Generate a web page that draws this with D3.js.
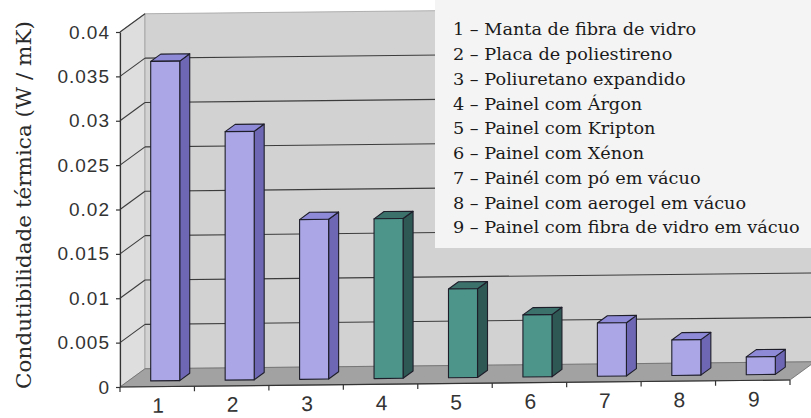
<!DOCTYPE html>
<html>
<head>
<meta charset="utf-8">
<script src="https://cdn.jsdelivr.net/npm/d3@7"></script>
<style>
  html, body { margin: 0; padding: 0; background: #ffffff; }
  svg { display: block; }
  .sans { font-family: "Liberation Sans", Arimo, Arial, sans-serif; }
  .serif { font-family: "DejaVu Serif", serif; }
</style>
</head>
<body>
<svg id="chart" width="811" height="418"></svg>
<script>
// Thermal conductivity of insulation materials (W/mK)
const categories = ["1", "2", "3", "4", "5", "6", "7", "8", "9"];
const conductivity = [0.036, 0.028, 0.018, 0.018, 0.010, 0.007, 0.006, 0.004, 0.002];
const barGroup = ["conv", "conv", "conv", "gas", "gas", "gas", "vac", "vac", "vac"];
const yTicks = [0, 0.005, 0.01, 0.015, 0.02, 0.025, 0.03, 0.035, 0.04];
const yTickLabels = ["0", "0.005", "0.01", "0.015", "0.02", "0.025", "0.03", "0.035", "0.04"];
const legendItems = [
  "1 – Manta de fibra de vidro",
  "2 – Placa de poliestireno",
  "3 – Poliuretano expandido",
  "4 – Painel com Árgon",
  "5 – Painel com Kripton",
  "6 – Painel com Xénon",
  "7 – Painél com pó em vácuo",
  "8 – Painel com aerogel em vácuo",
  "9 – Painel com fibra de vidro em vácuo"
];
const yTitle = "Condutibilidade térmica (W / mK)";

// Face colours per bar group: front, side, top
const palette = {
  conv: { front: "#aba7e6", side: "#6d67b4", top: "#8f8ad8" },
  gas:  { front: "#4d948a", side: "#2e5853", top: "#3c706a" },
  vac:  { front: "#aba7e6", side: "#6d67b4", top: "#8f8ad8" }
};

const svg = d3.select("#chart");

// Front plane of the 3D box
const X0 = 120, X1 = 790;
const x = d3.scaleBand().domain(categories).range([X0, X1]).padding(0);
const y = d3.scaleLinear().domain([0, 0.04]).range([387, 32]);

// Oblique depth offset for z in [0,1] (0 = front, 1 = back wall)
const DX = 25, DY = -18;
const P = (xf, v, z) => [xf + z * DX, y(v) + z * DY];
const pts = arr => arr.map(p => p.join(",")).join(" ");

// Slight downward-right tilt of the whole 3D scene
const scene = svg.append("g")
  .attr("transform", `translate(${X0},0) skewY(-0.6) translate(${-X0},0)`);

const vMax = 0.04;

// Left side wall
scene.append("polygon")
  .attr("points", pts([P(X0, 0, 0), P(X0, 0, 1), P(X0, vMax, 1), P(X0, vMax, 0)]))
  .attr("fill", "#dedede").attr("stroke", "#9a9a9a").attr("stroke-width", 0.8);

// Back wall (runs past the right edge)
scene.append("polygon")
  .attr("points", pts([P(X0, 0, 1), P(X1, 0, 1), P(X1, vMax, 1), P(X0, vMax, 1)]))
  .attr("fill", "#d2d2d2").attr("stroke", "#a0a0a0").attr("stroke-width", 0.8);

// Floor
scene.append("polygon")
  .attr("points", pts([P(X0, 0, 0), P(X1, 0, 0), P(X1, 0, 1), P(X0, 0, 1)]))
  .attr("fill", "#a2a2a2").attr("stroke", "#6a6a6a").attr("stroke-width", 0.8);

// Gridlines: diagonals on the side wall, horizontals on the back wall
const grid = scene.append("g").attr("stroke", "#3c3c3c").attr("stroke-width", 1.1).attr("fill", "none");
yTicks.filter(v => v > 0).forEach(v => {
  grid.append("line")
    .attr("x1", P(X0, v, 0)[0]).attr("y1", P(X0, v, 0)[1])
    .attr("x2", P(X0, v, 1)[0]).attr("y2", P(X0, v, 1)[1]);
  if (v < vMax) {
    grid.append("line")
      .attr("x1", P(X0, v, 1)[0]).attr("y1", P(X0, v, 1)[1])
      .attr("x2", P(X1, v, 1)[0]).attr("y2", P(X1, v, 1)[1]);
  }
});

// Bars as 3D boxes
const zF = 0.32, zB = 0.72;
const barW = x.bandwidth() * 0.39;
const bars = scene.append("g").attr("stroke", "#1e1e2a").attr("stroke-width", 1.1).attr("stroke-linejoin", "round");
categories.forEach((c, i) => {
  const v = conductivity[i];
  const col = palette[barGroup[i]];
  const xl = x(c) + (x.bandwidth() - barW) / 2;
  const xr = xl + barW;
  const g = bars.append("g");
  // side face
  g.append("polygon")
    .attr("points", pts([P(xr, 0, zF), P(xr, 0, zB), P(xr, v, zB), P(xr, v, zF)]))
    .attr("fill", col.side);
  // top face
  g.append("polygon")
    .attr("points", pts([P(xl, v, zF), P(xr, v, zF), P(xr, v, zB), P(xl, v, zB)]))
    .attr("fill", col.top);
  // front face
  g.append("polygon")
    .attr("points", pts([P(xl, 0, zF), P(xr, 0, zF), P(xr, v, zF), P(xl, v, zF)]))
    .attr("fill", col.front);
});

// Category axis along the front edge of the floor
const xAxis = scene.append("g");
xAxis.append("line")
  .attr("x1", X0).attr("y1", y(0)).attr("x2", X1).attr("y2", y(0))
  .attr("stroke", "#333").attr("stroke-width", 1.2);
const bounds = categories.map(c => x(c)).concat([X1]);
bounds.forEach(b => {
  xAxis.append("line")
    .attr("x1", b).attr("y1", y(0)).attr("x2", b).attr("y2", y(0) + 5)
    .attr("stroke", "#333").attr("stroke-width", 1.2);
});
xAxis.selectAll("text.cat").data(categories).join("text")
  .attr("class", "cat sans")
  .attr("x", d => x(d) + x.bandwidth() / 2 + 1)
  .attr("y", y(0) + 26)
  .attr("text-anchor", "middle")
  .style("font-size", "21px")
  .attr("fill", "#333")
  .text(d => d);

// Value axis
const yAxis = svg.append("g")
  .attr("transform", `translate(${X0},0)`)
  .call(d3.axisLeft(y).tickValues(yTicks)
    .tickFormat((d, i) => yTickLabels[i])
    .tickSizeInner(4).tickSizeOuter(0).tickPadding(6));
yAxis.attr("font-family", null).attr("font-size", null);
yAxis.select(".domain").attr("stroke", "#333").attr("stroke-width", 1.2);
yAxis.selectAll(".tick line").attr("stroke", "#333").attr("stroke-width", 1.2);
yAxis.selectAll(".tick text")
  .attr("class", "sans")
  .style("font-size", "19px")
  .style("letter-spacing", "1px")
  .attr("fill", "#333");

// Legend panel over the back wall
const legend = svg.append("g");
legend.append("rect")
  .attr("x", 435).attr("y", 0).attr("width", 400).attr("height", 248)
  .attr("fill", "#f4f4f4");
const LX = 453;
const legLines = legend.append("g");
const legText = legLines.selectAll("text").data(legendItems).join("text")
  .attr("class", "serif")
  .attr("x", LX)
  .attr("y", (d, i) => 35.5 + i * 24.75)
  .style("font-size", "16.5px")
  .attr("fill", "#1a1a1a")
  .text(d => d);
// compress horizontally so the longest entry spans 347px
const longest = d3.max(legText.nodes(), n => n.getComputedTextLength());
const sx = 347 / longest;
legLines.attr("transform", `translate(${LX},0) scale(${sx},1) translate(${-LX},0)`);

// Value axis title, compressed along its length to span 368px
const titleG = svg.append("g").attr("transform", "translate(31,205) rotate(-90)");
const title = titleG.append("text")
  .attr("class", "serif")
  .attr("text-anchor", "middle")
  .style("font-size", "20px")
  .attr("fill", "#2a2a2a")
  .text(yTitle);
const tl = title.node().getComputedTextLength();
title.attr("transform", `scale(${368 / tl},1)`);
</script>
</body>
</html>
